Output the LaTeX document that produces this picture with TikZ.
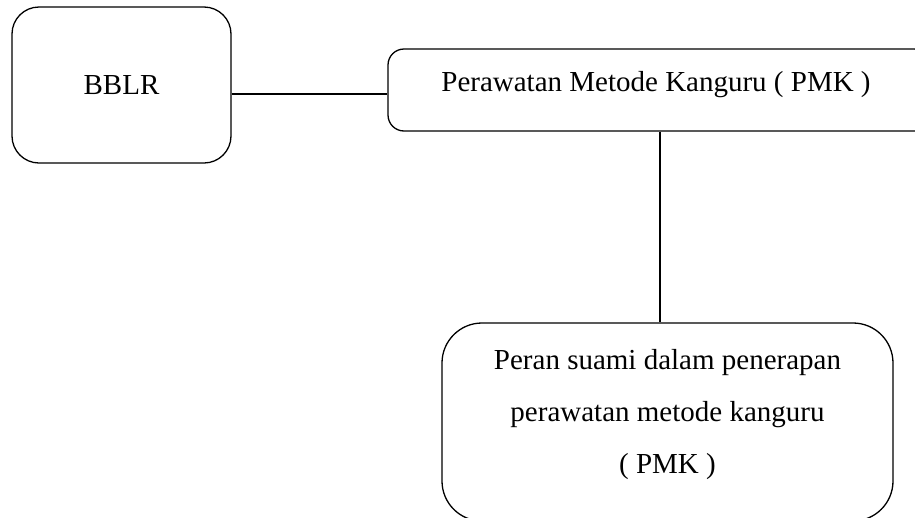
\documentclass[tikz,border=0pt]{standalone}
\usepackage{fontspec}
\setmainfont{Liberation Serif}
\begin{document}
\begin{tikzpicture}[x=1pt,y=-1pt, line width=1.3pt,
  box/.style={draw, rounded corners=#1, inner sep=0pt},
  txt/.style={font=\fontsize{29}{52}\selectfont, align=center, inner sep=0pt}]
\useasboundingbox (0,0) rectangle (915,517);
\clip (0,0) rectangle (915,517);
\node[box=27pt, minimum width=219pt, minimum height=156pt, txt] (bblr) at (121.5,85) {BBLR};
\node[box=16pt, minimum width=542pt, minimum height=82pt] (pmk) at (659,90) {};
\node[txt] (pmktext) at (656,85) {Perawatan Metode Kanguru ( PMK )};
\node[box=40pt, minimum width=451pt, minimum height=198pt] (peran) at (667.5,422) {};
\node[txt] (perantext) at (667.5,415) {Peran suami dalam penerapan\\perawatan metode kanguru\\( PMK )};
\coordinate (h) at (0,94);
\coordinate (v) at (660,0);
\draw (bblr.east |- h) -- (pmk.west |- h);
\draw (pmk.south -| v) -- (peran.north -| v);
\end{tikzpicture}
\end{document}
